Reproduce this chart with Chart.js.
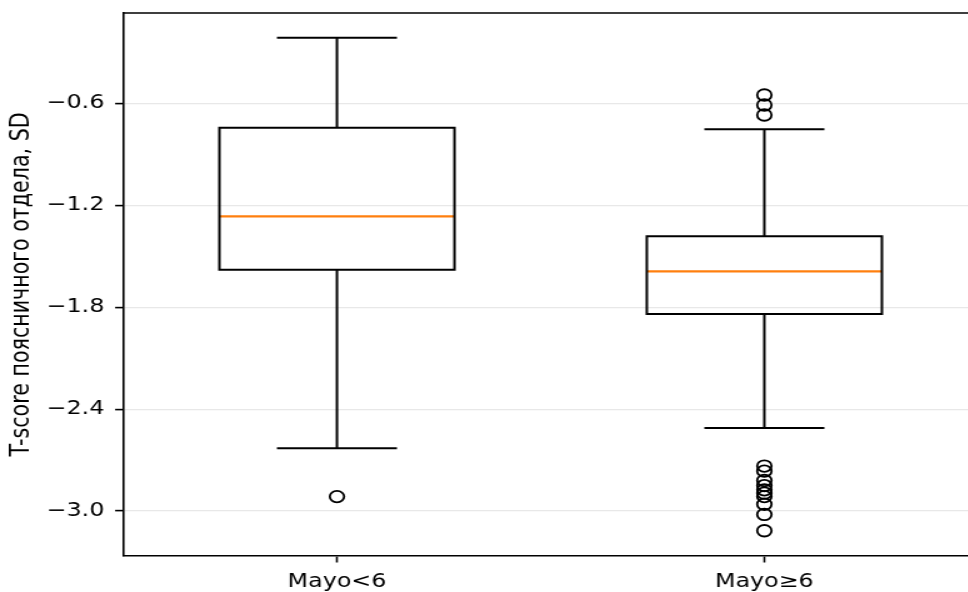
<!DOCTYPE html>
<html>
<head>
<meta charset="utf-8">
<script src="https://cdn.jsdelivr.net/npm/chart.js@4/dist/chart.umd.min.js"></script>
<style>
  html, body { margin: 0; padding: 0; background: #fff; overflow: hidden; width: 968px; height: 592px; }
  #wrap { position: absolute; left: 0; top: 0; width: 790px; height: 592px; transform: scaleX(1.25); transform-origin: 0 0; }
</style>
</head>
<body>
<div id="wrap"><canvas id="c" width="790" height="592"></canvas></div>
<script>
// Box-plot summary per group (T-score, SD)
const groups = ['Mayo<6', 'Mayo≥6'];
const positions = [1, 2];
const whiskerLow = [-2.631, -2.511];
const q1 = [-1.579, -1.840];
const medians = [-1.265, -1.589];
const q3 = [-0.744, -1.383];
const whiskerHigh = [-0.214, -0.753];
const outliers = [
  [-2.915],
  [-0.551, -0.610, -0.669, -2.735, -2.765, -2.820, -2.850, -2.875, -2.895, -2.915, -2.960, -3.020, -3.116]
];
const yTicks = [-3.0, -2.4, -1.8, -1.2, -0.6];

const BOX_W = 0.55;
const CAP_W = BOX_W / 2;

const lineStyle = {
  type: 'scatter', showLine: true, pointRadius: 0, pointHoverRadius: 0,
  borderColor: '#000', borderWidth: 2, fill: false,
  borderJoinStyle: 'miter', borderCapStyle: 'square'
};

const datasets = [];
positions.forEach((p, i) => {
  const l = p - BOX_W / 2, r = p + BOX_W / 2;
  // box
  datasets.push({ ...lineStyle, data: [
    { x: l, y: q1[i] }, { x: r, y: q1[i] }, { x: r, y: q3[i] }, { x: l, y: q3[i] }, { x: l, y: q1[i] }, { x: r, y: q1[i] }
  ] });
  // whiskers
  datasets.push({ ...lineStyle, borderCapStyle: 'butt', data: [{ x: p, y: q1[i] }, { x: p, y: whiskerLow[i] }] });
  datasets.push({ ...lineStyle, borderCapStyle: 'butt', data: [{ x: p, y: q3[i] }, { x: p, y: whiskerHigh[i] }] });
  // caps
  datasets.push({ ...lineStyle, data: [{ x: p - CAP_W / 2, y: whiskerLow[i] }, { x: p + CAP_W / 2, y: whiskerLow[i] }] });
  datasets.push({ ...lineStyle, data: [{ x: p - CAP_W / 2, y: whiskerHigh[i] }, { x: p + CAP_W / 2, y: whiskerHigh[i] }] });
  // median
  datasets.push({ ...lineStyle, borderColor: '#ff7f0e', borderWidth: 2.2, borderCapStyle: 'butt', data: [{ x: l, y: medians[i] }, { x: r, y: medians[i] }] });
  // fliers
  datasets.push({
    type: 'scatter', showLine: false,
    data: outliers[i].map(v => ({ x: p, y: v })),
    pointStyle: 'circle', pointRadius: 5.75, pointHoverRadius: 5.75,
    borderColor: '#000', borderWidth: 1.8, backgroundColor: 'rgba(0,0,0,0)'
  });
});

// top/right spines of the axes frame
const frame = {
  id: 'frame',
  afterDatasetsDraw(chart) {
    const { ctx, chartArea: a } = chart;
    ctx.save();
    ctx.strokeStyle = '#000';
    ctx.lineWidth = 1.6;
    ctx.beginPath();
    ctx.moveTo(a.left, a.top);
    ctx.lineTo(a.right, a.top);
    ctx.lineTo(a.right, a.bottom);
    ctx.stroke();
    ctx.restore();
  }
};

const tickFont = { family: 'DejaVu Sans', size: 19 };

new Chart(document.getElementById('c'), {
  type: 'scatter',
  data: { datasets },
  plugins: [frame],
  options: {
    responsive: false,
    animation: false,
    devicePixelRatio: 1,
    layout: { padding: { top: 13, right: 6.3, bottom: 0, left: 0 } },
    plugins: { legend: { display: false }, tooltip: { enabled: false } },
    scales: {
      x: {
        type: 'linear', min: 0.5, max: 2.5,
        afterBuildTicks: s => { s.ticks = positions.map(v => ({ value: v })); },
        afterFit: s => { s.height = 36; s.paddingLeft = 0; s.paddingRight = 0; },
        ticks: {
          callback: (v, idx) => groups[idx],
          font: tickFont, color: '#000', padding: 8.4, maxRotation: 0, autoSkip: false
        },
        grid: { drawOnChartArea: false, tickLength: 6.5, tickColor: '#000', tickWidth: 1.6 },
        border: { color: '#000', width: 1.6 }
      },
      y: {
        type: 'linear', min: -3.2645, max: -0.0685,
        afterBuildTicks: s => { s.ticks = yTicks.map(v => ({ value: v })); },
        afterFit: s => { s.width = 98.6; s.paddingTop = 0; s.paddingBottom = 0; },
        ticks: {
          callback: v => v.toFixed(1).replace('-', '\u2212'),
          font: tickFont, color: '#000', padding: 8.6, autoSkip: false
        },
        grid: { color: '#e8e8e8', lineWidth: 1.2, tickLength: 6.5, tickColor: '#000', tickWidth: 1.6 },
        border: { color: '#000', width: 1.6 },
        title: {
          display: true, text: 'T-score поясничного отдела, SD',
          font: { family: 'DejaVu Sans', size: 20.6 }, color: '#000',
          padding: { top: 5.2, bottom: 0 }
        }
      }
    }
  }
});
</script>
</body>
</html>
